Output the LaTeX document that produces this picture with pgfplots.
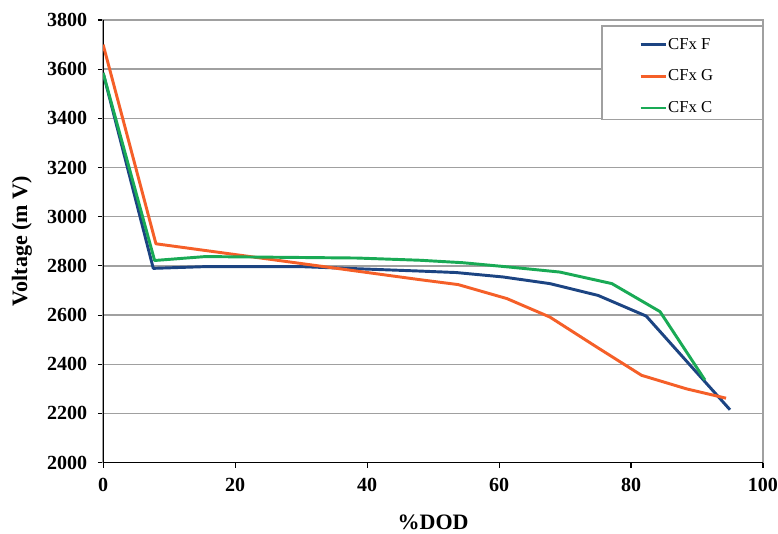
\documentclass[border=0pt]{standalone}
\usepackage{fontspec}
\setmainfont{Liberation Serif}
\usepackage{pgfplots}
\pgfplotsset{compat=1.18}

\definecolor{cfxF}{RGB}{28,68,130}
\definecolor{cfxG}{RGB}{245,95,40}
\definecolor{cfxC}{RGB}{25,170,85}
\definecolor{gridgray}{RGB}{160,160,160}

\begin{document}
\begin{tikzpicture}
\begin{axis}[
  at={(0,0)}, anchor=south west,
  scale only axis, width=494.25pt, height=331.5pt,
  xmin=0, xmax=100, ymin=2000, ymax=3800,
  xtick={0,20,...,100}, ytick={2000,2200,...,3800},
  xtick pos=bottom, ytick pos=left,
  tick align=outside, major tick length=4pt,
  tick style={black, line width=0.8pt},
  ymajorgrids, grid style={gridgray, line width=1.1pt},
  axis line style={gridgray, line width=1.1pt},
  /pgf/number format/assume math mode=true,
  /pgf/number format/set thousands separator={},
  tick label style={font=\fontsize{15}{18}\selectfont\bfseries},
  yticklabel style={xshift=-4.5pt},
  xticklabel style={yshift=-4pt},
  xlabel={\%DOD}, ylabel={Voltage (m V)},
  label style={font=\fontsize{16.5}{20}\selectfont\bfseries},
  xlabel style={at={(axis description cs:0.5,-0.136)}, anchor=center},
  ylabel style={at={(axis description cs:-0.123,0.5)}, anchor=center},
  legend style={draw=none, fill=none, at={(rel axis cs:0.812,0.966)},
    anchor=north west, inner sep=0pt, row sep=10pt,
    font=\fontsize{12.5}{14}\selectfont, column sep=0pt,
    nodes={inner xsep=0.5pt}},
  legend cell align=left,
  legend image code/.code={\draw[#1, line width=2.2pt] (0pt,0pt) -- (19pt,0pt);},
  every axis plot/.append style={line width=2.2pt, line join=round},
]
% legend frame, drawn over the grid
\draw[gridgray, line width=1.1pt, fill=white]
  (rel axis cs:0.7557,0.9864) rectangle (rel axis cs:1,0.7755);
% black left and bottom axis lines
\draw[black, line width=0.9pt] (rel axis cs:0,0) -- (rel axis cs:0,1);
\draw[black, line width=0.9pt] (rel axis cs:0,0) -- (rel axis cs:1,0);

\addplot[cfxF] coordinates {
  (0,3585) (7.6,2790) (15.4,2797) (30,2797) (48,2779) (53.5,2773)
  (60.6,2755) (67.7,2728) (75,2680) (82.3,2596) (95,2215)
};
\addlegendentry{CFx F}
\addplot[cfxG] coordinates {
  (0,3700) (8,2890) (48,2744) (53.8,2724) (61.2,2667) (67.7,2592)
  (74.8,2470) (81.6,2355) (88.4,2300) (94.4,2262)
};
\addlegendentry{CFx G}
\addplot[cfxC] coordinates {
  (0,3585) (7.8,2822) (15.5,2838) (38.5,2832) (48,2823) (54.5,2813)
  (61.7,2795) (69.2,2775) (77.1,2728) (84.4,2614) (91.2,2336)
};
\addlegendentry{CFx C}
\end{axis}
\pgfresetboundingbox
\path[use as bounding box] (-77.25pt,-53.25pt) rectangle (505.5pt,346.5pt);
\end{tikzpicture}
\end{document}
